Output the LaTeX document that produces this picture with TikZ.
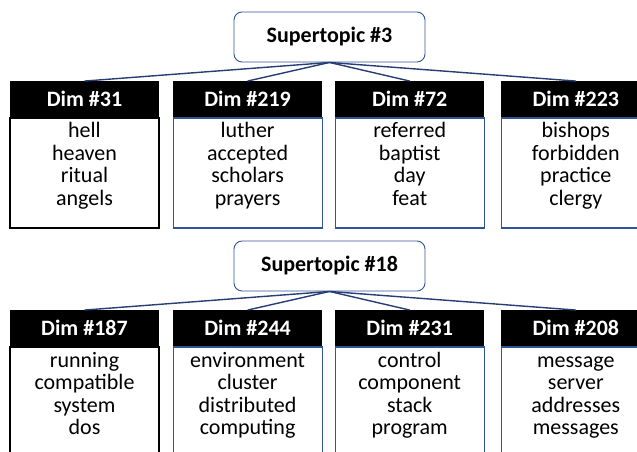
\documentclass[tikz,border=0pt]{standalone}
\usepackage{fontspec}
\setmainfont{Carlito}
\usetikzlibrary{positioning}
\definecolor{dimblue}{RGB}{47,85,151}
\definecolor{linkblue}{RGB}{38,62,115}

\begin{document}
\begin{tikzpicture}

        \tikzstyle{link} = [linkblue, line width=1.4pt]
        \tikzset{super/.style = {rectangle, rounded corners=8pt, draw=dimblue, line width=0.9pt, minimum width=191pt, minimum height=50pt, text centered, font=\fontsize{22pt}{22.5pt}\selectfont\bfseries}, }
        \tikzset{dimhead/.style = {rectangle, fill=black, text=white, minimum width=149pt, minimum height=36pt, inner sep=0pt, font=\fontsize{22pt}{22.5pt}\selectfont\bfseries}, }
        \tikzset{dimbox/.style = {rectangle, draw=dimblue, line width=1.1pt, minimum width=149pt, minimum height=110pt, inner sep=0pt}, }
        \tikzset{words/.style = {align=center, inner sep=0pt, font=\fontsize{22pt}{22.5pt}\selectfont} }

        \useasboundingbox (0,0) rectangle (637pt,-451pt);

        % Supertopic #3
        \node[super] (S3) at (329.5pt,-37pt) {Supertopic \#3};
        \node[dimbox, draw=black] (D31) at (84.5pt,-173pt) {};
        \node[dimhead, above=0pt of D31.north] (H31) {Dim \#31};
        \node[words, below=4.5pt of D31.north] (W31) {\strut hell\\heaven\\ritual\\angels};
        \node[dimbox, right=13pt of D31] (D219) {};
        \node[dimhead, above=0pt of D219.north] (H219) {Dim \#219};
        \node[words, below=4.5pt of D219.north] (W219) {\strut luther\\accepted\\scholars\\prayers};
        \node[dimbox, right=12pt of D219] (D72) {};
        \node[dimhead, above=0pt of D72.north] (H72) {Dim \#72};
        \node[words, below=4.5pt of D72.north] (W72) {\strut referred\\baptist\\day\\feat};
        \node[dimbox, right=16pt of D72] (D223) {};
        \node[dimhead, above=0pt of D223.north] (H223) {Dim \#223};
        \node[words, below=4.5pt of D223.north] (W223) {\strut bishops\\forbidden\\practice\\clergy};

        % Supertopic #18
        \node[super] (S18) at (329.5pt,-266pt) {Supertopic \#18};
        \node[dimbox, draw=black] (D187) at (84.5pt,-402pt) {};
        \node[dimhead, above=0pt of D187.north] (H187) {Dim \#187};
        \node[words, below=5pt of D187.north] (W187) {\strut running\\compatible\\system\\dos};
        \node[dimbox, right=13pt of D187] (D244) {};
        \node[dimhead, above=0pt of D244.north] (H244) {Dim \#244};
        \node[words, below=5pt of D244.north] (W244) {\strut environment\\cluster\\distributed\\computing};
        \node[dimbox, right=12pt of D244] (D231) {};
        \node[dimhead, above=0pt of D231.north] (H231) {Dim \#231};
        \node[words, below=5pt of D231.north] (W231) {\strut control\\component\\stack\\program};
        \node[dimbox, right=16pt of D231] (D208) {};
        \node[dimhead, above=0pt of D208.north] (H208) {Dim \#208};
        \node[words, below=5pt of D208.north] (W208) {\strut message\\server\\addresses\\messages};

        \path[link]
        (S3.south) edge (H31.north)
        (S3.south) edge (H219.north)
        (S3.south) edge (H72.north)
        (S3.south) edge (H223.north)
        (S18.south) edge (H187.north)
        (S18.south) edge (H244.north)
        (S18.south) edge (H231.north)
        (S18.south) edge (H208.north);

\end{tikzpicture}
\end{document}
